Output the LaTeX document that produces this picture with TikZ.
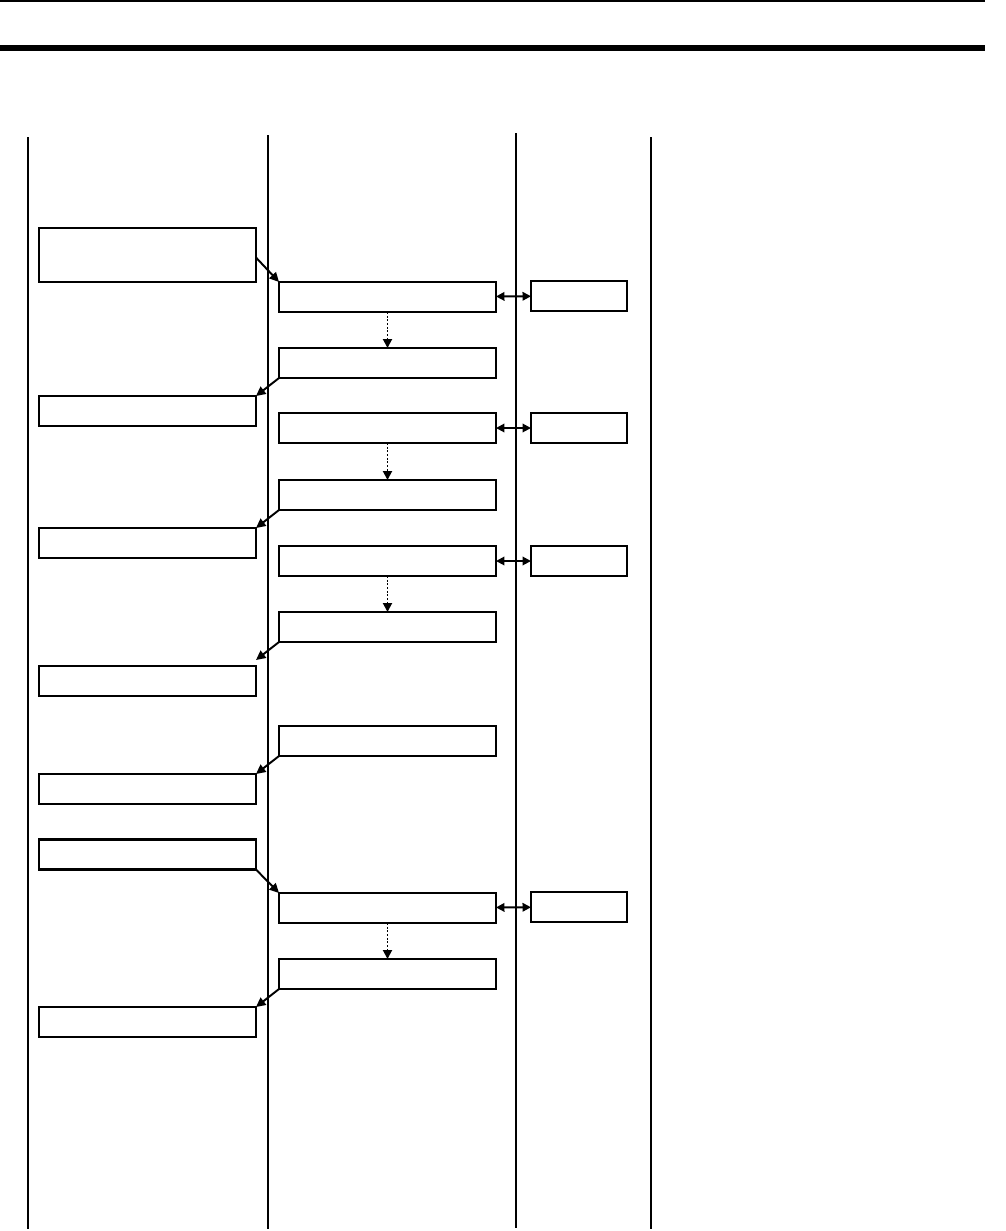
\documentclass[tikz,border=0pt]{standalone}
\usepackage{tikz}
\usetikzlibrary{arrows.meta}

\begin{document}
\begin{tikzpicture}[x=0.02cm,y=-0.02cm,
    box/.style={draw,line width=1.3pt,inner sep=0pt,outer sep=0pt,
      minimum width=4.34cm,minimum height=0.6cm},
    smallbox/.style={box,minimum width=1.92cm},
    flow/.style={line width=1.1pt,-{Triangle[length=1.9mm,width=1.8mm]}},
    next/.style={line width=1.1pt,densely dotted,-{Triangle[length=1.8mm,width=1.8mm]}},
    both/.style={line width=1.1pt,{Triangle[length=1.7mm,width=1.7mm]}-{Triangle[length=1.7mm,width=1.7mm]}}]
  \useasboundingbox (0,0) rectangle (1006,1231);
  % header rules
  \draw[line width=0.04cm] (0,1) -- (985,1);
  \draw[line width=0.12cm] (0,48) -- (985,48);
  % columns
  \draw[line width=1.1pt] (28,137) -- (28,1229);
  \draw[line width=0.6pt] (268,135) -- (268,1229);
  \draw[line width=0.8pt] (516,133) -- (516,1228);
  \draw[line width=1.1pt] (651,137) -- (651,1229);
  % left column
  \node[box,minimum height=1.08cm] (L1) at (147.5,255) {};
  \node[box] (L2) at (147.5,411) {};
  \node[box] (L3) at (147.5,543) {};
  \node[box] (L4) at (147.5,681) {};
  \node[box] (L5) at (147.5,789) {};
  \node[box] (L6) at (147.5,854.5) {};
  \node[box] (L7) at (147.5,1022) {};
  % middle column
  \node[box] (M1) at (387.5,297) {};
  \node[box] (M2) at (387.5,363) {};
  \node[box] (M3) at (387.5,428) {};
  \node[box] (M4) at (387.5,495) {};
  \node[box] (M5) at (387.5,561) {};
  \node[box] (M6) at (387.5,627) {};
  \node[box] (M7) at (387.5,741) {};
  \node[box] (M8) at (387.5,908) {};
  \node[box] (M9) at (387.5,974) {};
  % right column
  \node[smallbox] (R1) at (579,296) {};
  \node[smallbox] (R2) at (579,428) {};
  \node[smallbox] (R3) at (579,561) {};
  \node[smallbox] (R4) at (579,907) {};
  % connectors
  \draw[flow] ([yshift=-0.05cm]L1.east) -- (M1.north west);
  \draw[flow] (M2.south west) -- (L2.north east);
  \draw[flow] (M4.south west) -- (L3.north east);
  \draw[flow] (M6.south west) -- ([yshift=0.12cm]L4.north east);
  \draw[flow] (M7.south west) -- (L5.north east);
  \draw[flow] (L6.south east) -- (M8.north west);
  \draw[flow] (M9.south west) -- (L7.north east);
  \draw[next] (M1) -- (M2);
  \draw[next] (M3) -- (M4);
  \draw[next] (M5) -- (M6);
  \draw[next] (M8) -- (M9);
  \draw[both] (M1) -- (R1);
  \draw[both] (M3) -- (R2);
  \draw[both] (M5) -- (R3);
  \draw[both] (M8) -- (R4);
\end{tikzpicture}
\end{document}
